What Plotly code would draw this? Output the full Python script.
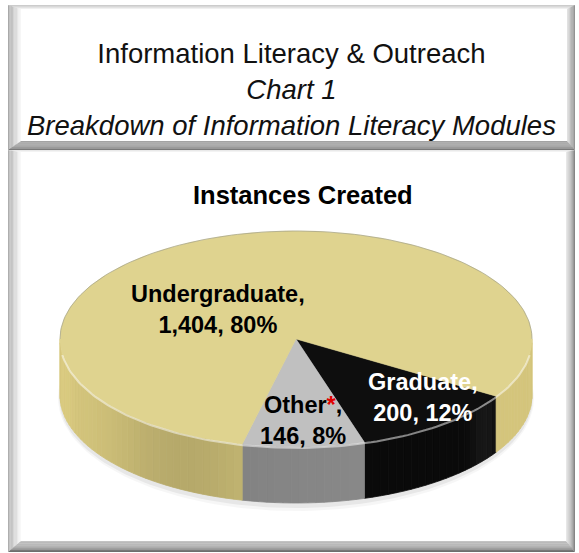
import numpy as np
import plotly.graph_objects as go

# ---------------- data ----------------
labels = ["Graduate", "Other", "Undergraduate"]
values = [200, 146, 1404]
pct_text = ["12%", "8%", "80%"]
chart_title = "Instances Created"
title_lines = ["Information Literacy & Outreach", "Chart 1", "Breakdown of Information Literacy Modules"]

# ---------------- geometry / style ----------------
W, H = 579, 553
CX, CY, A, B, DEPTH = 296, 339, 236, 108, 56
START_DEG = 32.0  # where the first slice (Graduate) starts, clockwise from 3 o'clock

top_colors = {"Undergraduate": "rgb(223,211,143)", "Graduate": "rgb(14,14,14)", "Other": "rgb(192,192,192)"}
side_base = {"Undergraduate": (212, 197, 124), "Graduate": (10, 10, 10), "Other": (132, 132, 132)}

fig = go.Figure()

# ---------------- frames (decorative bevels) ----------------
shapes = []


def bevel_box(x0, y0, x1, y1, widths, grads, n=10):
    wl, wt, wr, wb = widths
    def rect(t):
        return (x0 + wl * t, y0 + wt * t, x1 - wr * t, y1 - wb * t)
    for k in range(n):
        t0, t1 = k / n, (k + 1) / n
        o, i = rect(t0), rect(t1)
        f = (k + 0.5) / n
        sides = {
            "l": [(o[0], o[1]), (i[0], i[1]), (i[0], i[3]), (o[0], o[3])],
            "t": [(o[0], o[1]), (o[2], o[1]), (i[2], i[1]), (i[0], i[1])],
            "r": [(o[2], o[1]), (o[2], o[3]), (i[2], i[3]), (i[2], i[1])],
            "b": [(o[0], o[3]), (o[2], o[3]), (i[2], i[3]), (i[0], i[3])],
        }
        for key, pts in sides.items():
            c0, c1 = grads[key]
            g = int(round(c0 + (c1 - c0) * f))
            path = "M " + " L ".join(f"{px},{py}" for px, py in pts) + " Z"
            shapes.append(dict(type="path", path=path, xref="x", yref="y",
                               fillcolor=f"rgb({g},{g},{g})", line=dict(width=0), layer="below"))


bevel_box(8, 5, 575, 150, (13, 4, 8, 9),
          {"l": (165, 250), "t": (175, 240), "r": (120, 225), "b": (120, 165)})
bevel_box(8, 150, 575, 552, (13, 2, 9, 11),
          {"l": (170, 252), "t": (215, 245), "r": (115, 235), "b": (105, 200)})

# ---------------- pie computed from values ----------------
total = float(sum(values))
angles = []
a0 = START_DEG
for v in values:
    span = 360.0 * v / total
    angles.append((a0, a0 + span))
    a0 += span


def pt(theta_deg, dy=0.0):
    t = np.radians(theta_deg)
    return CX + A * np.cos(t), CY + B * np.sin(t) + dy


# soft shadow
sh_t = np.linspace(0, 360, 181)
for grow, col in [(5, "rgba(0,0,0,0.035)"), (2, "rgba(0,0,0,0.06)")]:
    xs = CX + (A + grow * 0.4) * np.cos(np.radians(sh_t))
    ys = CY + DEPTH + 3 + (B + grow) * np.sin(np.radians(sh_t))
    fig.add_trace(go.Scatter(x=xs, y=ys, mode="lines", fill="toself", fillcolor=col,
                             line=dict(width=0), hoverinfo="skip", showlegend=False))


def side_color(lab, tm):
    base = side_base[lab]
    if lab == "Undergraduate":
        f = 1.0 - 0.14 * np.exp(-((tm - 118) / 22.0) ** 2) + 0.03 * np.exp(-((tm - 170) / 10.0) ** 2)
        if tm < 60:
            f = 1.0
        return tuple(int(min(255, ch * f)) for ch in base)
    if lab == "Other":
        f = 1.0 + 0.04 * (100 - tm) / 30.0
        return tuple(int(min(255, ch * f)) for ch in base)
    g = int(10 + 14 * np.exp(-((tm - 37) / 5.0) ** 2))
    return (g, g, g)


# sides (front half only)
for lab, (s, e) in zip(labels, angles):
    segs = []
    for off in (0.0, 360.0, -360.0):
        lo, hi = max(s + off, 0.0), min(e + off, 180.0)
        if hi > lo:
            segs.append((lo, hi))
    for lo, hi in segs:
        n = max(2, int((hi - lo) / 2.0))
        th = np.linspace(lo, hi, n + 1)
        for j in range(n):
            t0, t1 = th[j], th[j + 1]
            c = side_color(lab, 0.5 * (t0 + t1))
            x0_, y0_ = pt(t0)
            x1_, y1_ = pt(t1)
            xs = [x0_, x1_, x1_, x0_, x0_]
            ys = [y0_, y1_, y1_ + DEPTH, y0_ + DEPTH, y0_]
            fig.add_trace(go.Scatter(x=xs, y=ys, mode="lines", fill="toself",
                                     fillcolor=f"rgb{c}", line=dict(width=0.8, color=f"rgb{c}"),
                                     hoverinfo="skip", showlegend=False))

# top faces
for lab, (s, e) in zip(labels, angles):
    th = np.linspace(s, e, max(3, int(e - s) + 1))
    xs = [CX] + [pt(t)[0] for t in th] + [CX]
    ys = [CY] + [pt(t)[1] for t in th] + [CY]
    fig.add_trace(go.Scatter(x=xs, y=ys, mode="lines", fill="toself", fillcolor=top_colors[lab],
                             line=dict(width=0.5, color=top_colors[lab]), hoverinfo="skip",
                             showlegend=False, name=lab))

# bevel highlight along the front rim
th = np.linspace(8, 172, 120)
fig.add_trace(go.Scatter(x=[pt(t)[0] for t in th], y=[pt(t)[1] + 1 for t in th], mode="lines",
                         line=dict(width=2, color="rgba(255,255,255,0.5)"),
                         hoverinfo="skip", showlegend=False))
# faint outline at the back rim
th = np.linspace(180, 360, 120)
fig.add_trace(go.Scatter(x=[pt(t)[0] for t in th], y=[pt(t)[1] for t in th], mode="lines",
                         line=dict(width=1, color="rgba(150,150,130,0.6)"),
                         hoverinfo="skip", showlegend=False))

# ---------------- text ----------------
ann = []
ann.append(dict(x=291, y=89, xref="x", yref="y", showarrow=False,
                text=f"{title_lines[0]}<br><i>{title_lines[1]}</i><br><i>{title_lines[2]}</i>",
                font=dict(family="Liberation Sans, Arial", size=27.5, color="#111"),
                align="center", xanchor="center", yanchor="middle"))
ann.append(dict(x=303, y=195, xref="x", yref="y", showarrow=False,
                text=f"<b>{chart_title}</b>",
                font=dict(family="Liberation Sans, Arial", size=25.5, color="#000"),
                xanchor="center", yanchor="middle"))

lbl_font = dict(family="Liberation Sans, Arial", size=23.5)


def fmt(v):
    return f"{v:,}"


ann.append(dict(x=218, y=309, xref="x", yref="y", showarrow=False,
                text=f"<b>{labels[2]},<br>{fmt(values[2])}, {pct_text[2]}</b>",
                font=dict(color="#000", **lbl_font), align="center"))
ann.append(dict(x=423, y=397, xref="x", yref="y", showarrow=False,
                text=f"<b>{labels[0]},<br>{fmt(values[0])}, {pct_text[0]}</b>",
                font=dict(color="#fff", **lbl_font), align="center"))
ann.append(dict(x=303, y=420, xref="x", yref="y", showarrow=False,
                text=f"<b>{labels[1]}<span style='color:#e00000'>*</span>,<br>{fmt(values[1])}, {pct_text[1]}</b>",
                font=dict(color="#000", **lbl_font), align="center"))

fig.update_layout(
    width=W, height=H, margin=dict(l=0, r=0, t=0, b=0),
    paper_bgcolor="white", plot_bgcolor="white",
    xaxis=dict(range=[0, W], visible=False, fixedrange=True),
    yaxis=dict(range=[H, 0], visible=False, fixedrange=True),
    shapes=shapes, annotations=ann, showlegend=False,
)

fig.write_html("out.html", config={"displayModeBar": False},
               post_script="document.body.style.margin='0';document.body.style.overflow='hidden';")
